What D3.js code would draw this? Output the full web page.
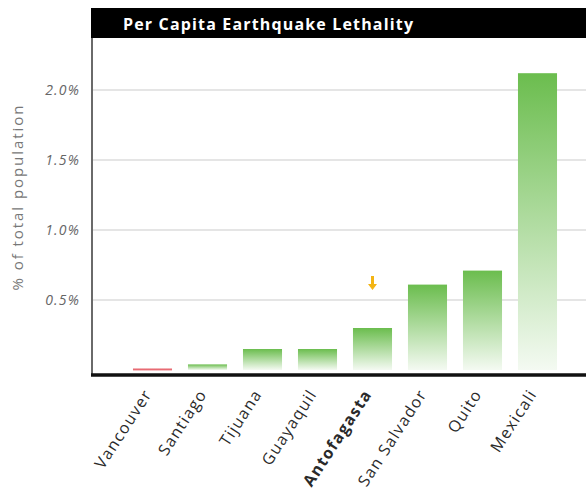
<!DOCTYPE html>
<html>
<head>
<meta charset="utf-8">
<script src="https://cdn.jsdelivr.net/npm/d3@7"></script>
<style>
  html, body { margin: 0; padding: 0; background: #fff; }
  svg { display: block; }
</style>
</head>
<body>
<svg id="chart" width="586" height="500"></svg>
<script>
// Share of each city's population killed by its major earthquake (%)
const cities = ["Vancouver", "Santiago", "Tijuana", "Guayaquil", "Antofagasta", "San Salvador", "Quito", "Mexicali"];
const lethality = [0.01, 0.04, 0.15, 0.15, 0.30, 0.61, 0.71, 2.12];
const yTicks = [0.5, 1.0, 1.5, 2.0];
const highlighted = ["Antofagasta"];
const baseline = ["Vancouver"];

const font = "'Open Sans', 'Lato', sans-serif";
const svg = d3.select("#chart");

const plot = { left: 92, right: 586, top: 38, bottom: 375 };

const x = d3.scaleBand().domain(cities).range([125, 565]).paddingInner(0.29).paddingOuter(0.145);
const y = d3.scaleLinear().domain([0, 2.0]).range([370, 90]);

// bar fill: solid green at the top fading to white at the base
const defs = svg.append("defs");
const g1 = defs.append("linearGradient").attr("id", "greenFade")
  .attr("x1", 0).attr("y1", 0).attr("x2", 0).attr("y2", 1);
g1.append("stop").attr("offset", "0%").attr("stop-color", "#6bbd4e");
g1.append("stop").attr("offset", "100%").attr("stop-color", "#f4faf2");
const g2 = defs.append("linearGradient").attr("id", "redFade")
  .attr("x1", 0).attr("y1", 0).attr("x2", 0).attr("y2", 1);
g2.append("stop").attr("offset", "0%").attr("stop-color", "#e0404a");
g2.append("stop").attr("offset", "100%").attr("stop-color", "#f2a0a6");

// gridlines
svg.append("g")
  .selectAll("line").data(yTicks).join("line")
  .attr("x1", plot.left).attr("x2", plot.right)
  .attr("y1", d => y(d)).attr("y2", d => y(d))
  .attr("stroke", "#cbcbcb").attr("stroke-width", 1);

// y tick labels
svg.append("g")
  .selectAll("text").data(yTicks).join("text")
  .attr("x", 80).attr("y", d => y(d) + 5)
  .attr("text-anchor", "end")
  .attr("font-family", font).attr("font-style", "italic")
  .attr("font-size", 14).attr("letter-spacing", 1.2).attr("fill", "#666")
  .text(d => d3.format(".1f")(d) + "%");

// y axis title
svg.append("text")
  .attr("transform", "translate(23,198) rotate(-90)")
  .attr("text-anchor", "middle")
  .attr("font-family", font).attr("font-size", 15).attr("fill", "#777")
  .attr("textLength", 185).attr("lengthAdjust", "spacing")
  .text("% of total population");

// bars
svg.append("g")
  .selectAll("rect").data(cities).join("rect")
  .attr("x", d => x(d))
  .attr("width", x.bandwidth())
  .attr("y", (d, i) => y(lethality[i]))
  .attr("height", (d, i) => Math.max(2, y(0) - y(lethality[i])))
  .attr("fill", d => baseline.includes(d) ? "url(#redFade)" : "url(#greenFade)");

// marker arrow above the highlighted city
highlighted.forEach(c => {
  const i = cities.indexOf(c);
  const cx = x(c) + x.bandwidth() / 2;
  const top = y(lethality[i]) - 52;
  svg.append("path")
    .attr("d", `M${cx - 1.5},${top} h3 v8 h3 l-4.5,6 l-4.5,-6 h3 z`)
    .attr("fill", "#f3b414");
});

// axes frame
svg.append("line")
  .attr("x1", plot.left).attr("x2", plot.left)
  .attr("y1", plot.top).attr("y2", plot.bottom)
  .attr("stroke", "#6a6a6a").attr("stroke-width", 2);
svg.append("line")
  .attr("x1", plot.left - 1).attr("x2", plot.right)
  .attr("y1", plot.bottom).attr("y2", plot.bottom)
  .attr("stroke", "#111").attr("stroke-width", 3.5);

// title band
svg.append("rect")
  .attr("x", plot.left - 1).attr("y", 8).attr("width", plot.right - plot.left + 1).attr("height", 30)
  .attr("fill", "#000");
svg.append("text")
  .attr("x", 123).attr("y", 30)
  .attr("font-family", font).attr("font-weight", "bold")
  .attr("font-size", 16).attr("fill", "#fff")
  .attr("textLength", 290).attr("lengthAdjust", "spacing")
  .text("Per Capita Earthquake Lethality");

// category labels
svg.append("g")
  .selectAll("text").data(cities).join("text")
  .attr("transform", d => `translate(${x(d) + x.bandwidth() / 2},${plot.bottom + 19}) rotate(-57)`)
  .attr("text-anchor", "end")
  .attr("font-family", font).attr("font-size", 16).attr("letter-spacing", 1.3)
  .attr("font-weight", d => highlighted.includes(d) ? "bold" : "normal")
  .attr("fill", "#2a2a2a")
  .text(d => d);
</script>
</body>
</html>
